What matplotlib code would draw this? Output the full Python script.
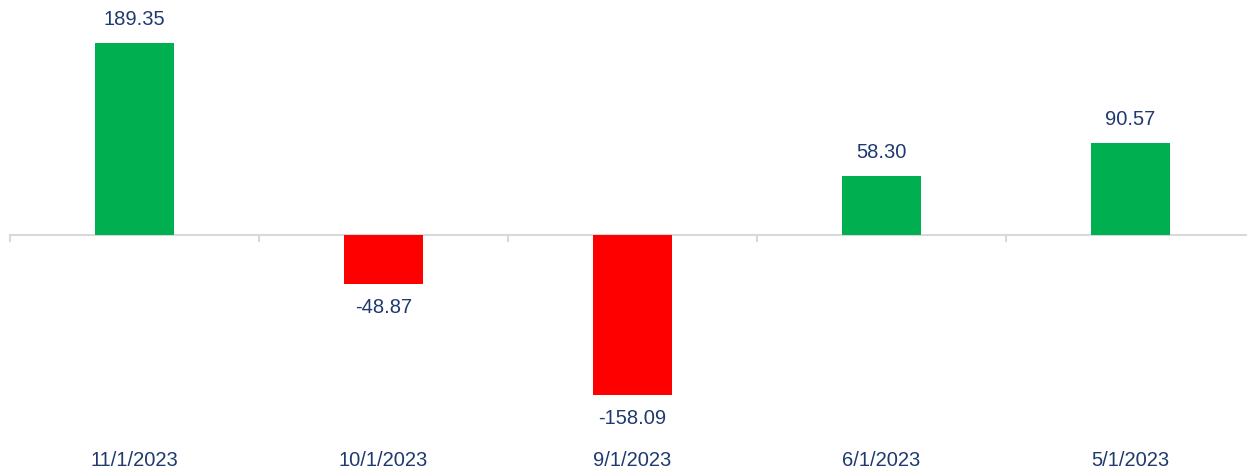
import matplotlib
matplotlib.use("Agg")
import matplotlib.pyplot as plt
from matplotlib.transforms import blended_transform_factory

categories = ["11/1/2023", "10/1/2023", "9/1/2023", "6/1/2023", "5/1/2023"]
values = [189.35, -48.87, -158.09, 58.30, 90.57]

plt.rcParams['font.family'] = ['Liberation Sans', 'DejaVu Sans']
W, H = 1247, 471
fig = plt.figure(figsize=(W/100, H/100), dpi=100)
ax = fig.add_axes([10/W, 0, 1245/W, 1])
x = list(range(len(categories)))
colors = ['#00B050' if v >= 0 else '#FF0000' for v in values]
ax.bar(x, values, width=0.32, color=colors, zorder=2)
ax.set_xlim(-0.5, len(categories) - 0.5)
ax.set_ylim(-233, 232)
for s in ax.spines.values():
    s.set_visible(False)
ax.set_yticks([])
ax.set_xticks([])
ax.axhline(0, color='#D9D9D9', lw=1.5, zorder=1)
navy = '#1F3A6E'
for b in range(len(categories) + 1):
    ax.plot([b - 0.5, b - 0.5], [0, -6], color='#D9D9D9', lw=1.5, zorder=1, clip_on=False)
for i, v in enumerate(values):
    off = 23 if v >= 0 else -23
    ax.text(i, v + off, f"{v:.2f}", ha='center', va='center', fontsize=14.5, color=navy)
tr = blended_transform_factory(ax.transData, ax.transAxes)
for i, c in enumerate(categories):
    ax.text(i, 10/H, c, transform=tr, ha='center', va='center', fontsize=14.5, color=navy)
fig.savefig("out.png", dpi=100)
